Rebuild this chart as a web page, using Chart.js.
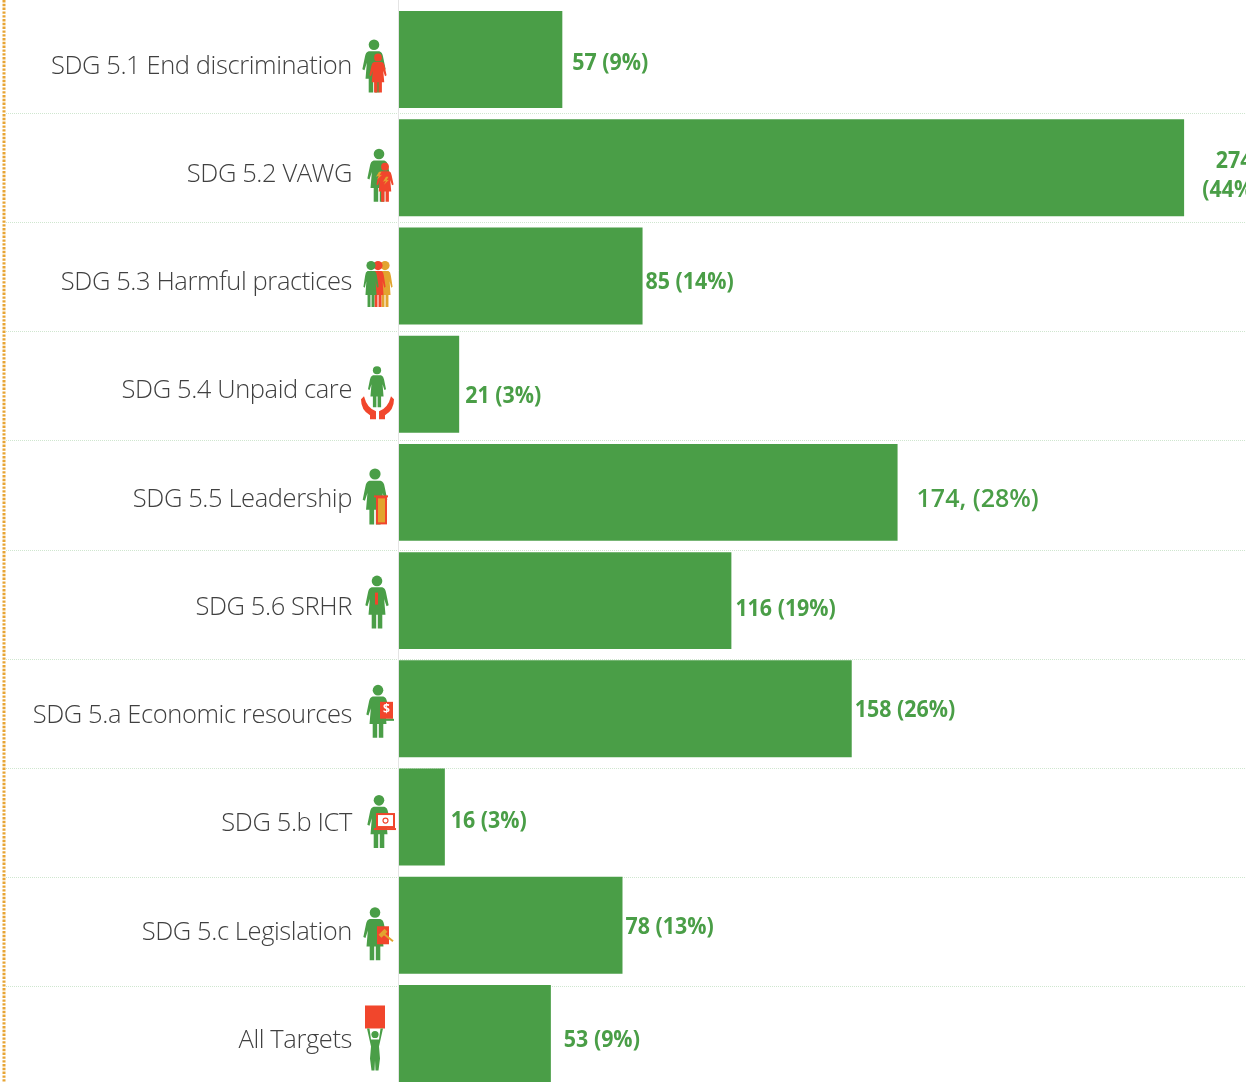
<!DOCTYPE html>
<html>
<head>
<meta charset="utf-8">
<title>SDG 5 targets</title>
<script src="https://cdn.jsdelivr.net/npm/chart.js@4"></script>
<style>
    html, body { margin: 0; padding: 0; background: #fff; overflow: hidden; }
    canvas { display: block; }
</style>
</head>
<body>
<canvas id="chart" width="1246" height="1100"></canvas>
<script>
const categories = ['SDG 5.1 End discrimination', 'SDG 5.2 VAWG', 'SDG 5.3 Harmful practices', 'SDG 5.4 Unpaid care',
    'SDG 5.5 Leadership', 'SDG 5.6 SRHR', 'SDG 5.a Economic resources', 'SDG 5.b ICT', 'SDG 5.c Legislation', 'All Targets'];
const values = [57, 274, 85, 21, 174, 116, 158, 16, 78, 53];
const valueLabels = ['57 (9%)', ['274', '(44%)'], '85 (14%)', '21 (3%)', '174, (28%)', '116 (19%)', '158 (26%)', '16 (3%)', '78 (13%)', '53 (9%)'];

// label nudges off the bar end, the source places them by hand
const labelDx = [10, 50, 3, 6, 19, 4, 3, 6, 3, 13];
const labelDy = [3.5, 8, 7, 12, 7, 9, 2, 4, 2, 7];

const GREEN = '#4a9e47';
const RED = '#f1462c';
const GOLD = '#e2a42f';

// woman pictogram, unit height, sx narrows her for the group icon
function woman(ctx, cx, top, h, color, sx = 1) {
    ctx.save();
    ctx.translate(cx, top);
    ctx.scale(h * sx, h);
    ctx.fillStyle = color;
    ctx.beginPath();
    ctx.ellipse(0, 0.1, 0.1 / sx, 0.1, 0, 0, Math.PI * 2);
    ctx.fill();
    ctx.beginPath();
    ctx.moveTo(-0.1, 0.22);
    ctx.lineTo(0.1, 0.22);
    ctx.quadraticCurveTo(0.16, 0.24, 0.17, 0.32);
    ctx.lineTo(0.22, 0.56);
    ctx.lineTo(0.18, 0.58);
    ctx.lineTo(0.135, 0.44);
    ctx.lineTo(0.16, 0.74);
    ctx.lineTo(0.1, 0.74);
    ctx.lineTo(0.1, 1);
    ctx.lineTo(0.015, 1);
    ctx.lineTo(0.015, 0.74);
    ctx.lineTo(-0.015, 0.74);
    ctx.lineTo(-0.015, 1);
    ctx.lineTo(-0.1, 1);
    ctx.lineTo(-0.1, 0.74);
    ctx.lineTo(-0.16, 0.74);
    ctx.lineTo(-0.135, 0.44);
    ctx.lineTo(-0.18, 0.58);
    ctx.lineTo(-0.22, 0.56);
    ctx.lineTo(-0.17, 0.32);
    ctx.quadraticCurveTo(-0.16, 0.24, -0.1, 0.22);
    ctx.fill();
    ctx.restore();
}

function bolt(ctx, x, y, color) {
    ctx.fillStyle = color;
    ctx.beginPath();
    ctx.moveTo(x + 3, y);
    ctx.lineTo(x, y + 5);
    ctx.lineTo(x + 3, y + 4);
    ctx.lineTo(x + 1, y + 8);
    ctx.lineTo(x + 6, y + 3);
    ctx.lineTo(x + 3.5, y + 3.5);
    ctx.lineTo(x + 5.5, y);
    ctx.fill();
}

function hand(ctx, x, y, dir) {
    ctx.fillStyle = RED;
    ctx.beginPath();
    ctx.moveTo(x, y + 23);
    ctx.lineTo(x, y + 15);
    ctx.quadraticCurveTo(x + dir * 9, y + 12, x + dir * 12, y);
    ctx.lineTo(x + dir * 15, y + 3);
    ctx.quadraticCurveTo(x + dir * 15, y + 14, x + dir * 6, y + 19);
    ctx.lineTo(x + dir * 6, y + 23);
    ctx.fill();
}

// one per category, c = centre of the bar
const icons = [
    (ctx, c) => {
        woman(ctx, 374, c - 20, 53, GREEN);
        woman(ctx, 378, c - 6, 39, RED);
    },
    (ctx, c) => {
        woman(ctx, 379, c - 19, 53, GREEN);
        woman(ctx, 385, c - 5, 39, RED);
        bolt(ctx, 376, c + 4, GOLD);
        bolt(ctx, 383, c + 9, GOLD);
    },
    (ctx, c) => {
        woman(ctx, 385, c - 15, 46, GOLD, 0.75);
        woman(ctx, 378, c - 15, 46, RED, 0.75);
        woman(ctx, 371, c - 15, 46, GREEN, 0.75);
    },
    (ctx, c) => {
        woman(ctx, 377, c - 18, 41, GREEN);
        hand(ctx, 376, c + 12, -1);
        hand(ctx, 379, c + 12, 1);
    },
    (ctx, c) => {
        woman(ctx, 375, c - 24, 56, GREEN);
        ctx.fillStyle = RED;
        ctx.fillRect(374, c + 3, 14, 2);
        ctx.fillRect(376, c + 4, 11, 28);
        ctx.fillStyle = GOLD;
        ctx.fillRect(378, c + 6, 7, 24);
    },
    (ctx, c) => {
        woman(ctx, 377, c - 25, 53, GREEN);
        ctx.fillStyle = RED;
        ctx.fillRect(375, c - 8, 3, 12);
    },
    (ctx, c) => {
        woman(ctx, 378, c - 24, 53, GREEN);
        ctx.fillStyle = RED;
        ctx.fillRect(380, c - 7, 13, 17);
        ctx.fillStyle = GREEN;
        ctx.fillRect(380, c + 10, 14, 2);
        ctx.fillStyle = '#fff';
        ctx.font = 'bold 12px "Open Sans"';
        ctx.textAlign = 'center';
        ctx.textBaseline = 'middle';
        ctx.fillText('$', 386.5, c + 1);
    },
    (ctx, c) => {
        woman(ctx, 379, c - 22, 53, GREEN);
        ctx.fillStyle = RED;
        ctx.fillRect(376, c - 4, 19, 15);
        ctx.fillRect(374, c + 11, 22, 2);
        ctx.fillStyle = '#fff';
        ctx.fillRect(378, c - 2, 15, 11);
        ctx.strokeStyle = RED;
        ctx.lineWidth = 1.2;
        ctx.beginPath();
        ctx.arc(385.5, c + 3.5, 2.5, 0, Math.PI * 2);
        ctx.stroke();
    },
    (ctx, c) => {
        woman(ctx, 375, c - 18, 53, GREEN);
        ctx.fillStyle = RED;
        ctx.fillRect(377, c + 1, 12, 18);
        ctx.strokeStyle = GOLD;
        ctx.lineWidth = 2;
        ctx.beginPath();
        ctx.moveTo(383, c + 8);
        ctx.lineTo(393, c + 16);
        ctx.stroke();
        ctx.lineWidth = 4;
        ctx.beginPath();
        ctx.moveTo(380, c + 11);
        ctx.lineTo(386, c + 5);
        ctx.stroke();
    },
    (ctx, c) => {
        ctx.fillStyle = RED;
        ctx.fillRect(365, c - 28, 20, 23);
        ctx.fillStyle = GREEN;
        ctx.beginPath();
        ctx.arc(375, c + 1, 3.6, 0, Math.PI * 2);
        ctx.fill();
        ctx.beginPath();
        ctx.moveTo(367, c - 5);
        ctx.lineTo(369.5, c - 5);
        ctx.lineTo(371, c + 6);
        ctx.lineTo(379, c + 6);
        ctx.lineTo(380.5, c - 5);
        ctx.lineTo(383, c - 5);
        ctx.lineTo(379, c + 13);
        ctx.lineTo(380, c + 25);
        ctx.lineTo(378.5, c + 37);
        ctx.lineTo(375.5, c + 37);
        ctx.lineTo(375, c + 27);
        ctx.lineTo(374.5, c + 37);
        ctx.lineTo(371.5, c + 37);
        ctx.lineTo(370, c + 25);
        ctx.lineTo(371, c + 13);
        ctx.fill();
    }
];

const decorations = {
    id: 'decorations',
    beforeDraw(chart) {
        // source text is squeezed, tick labels pick this up from the context
        chart.ctx.letterSpacing = '-0.4px';
    },
    beforeDatasetsDraw(chart) {
        const ctx = chart.ctx;
        ctx.save();
        // row separators, slightly wider pitch than the bars in the source
        ctx.strokeStyle = '#cfe6cf';
        ctx.lineWidth = 1;
        ctx.setLineDash([1, 1]);
        for (let i = 1; i < values.length; i++) {
            const y = Math.round(4 + 109.1 * i) + 0.5;
            ctx.beginPath();
            ctx.moveTo(6, y);
            ctx.lineTo(1246, y);
            ctx.stroke();
        }
        ctx.setLineDash([]);
        ctx.strokeStyle = '#e4e4e4';
        ctx.beginPath();
        ctx.moveTo(chart.chartArea.left - 0.5, 0);
        ctx.lineTo(chart.chartArea.left - 0.5, 1082);
        ctx.stroke();
        // orange dotted rule at the far left
        ctx.strokeStyle = '#e8a534';
        ctx.lineWidth = 3;
        ctx.setLineDash([2.4, 1.4]);
        ctx.beginPath();
        ctx.moveTo(4, 0);
        ctx.lineTo(4, 1082);
        ctx.stroke();
        ctx.restore();
    },
    afterDatasetsDraw(chart) {
        const ctx = chart.ctx;
        const xScale = chart.scales.x;
        const yScale = chart.scales.y;
        values.forEach((v, i) => {
            const c = yScale.getPixelForValue(i);
            ctx.save();
            ctx.letterSpacing = '0px';
            icons[i](ctx, c);
            ctx.restore();

            const x = xScale.getPixelForValue(v) + labelDx[i];
            const y = c + labelDy[i];
            const label = valueLabels[i];
            ctx.save();
            ctx.fillStyle = GREEN;
            ctx.textBaseline = 'middle';
            ctx.letterSpacing = '0px';
            ctx.font = (i === 4 ? '600 25px' : '700 23px') + ' "Open Sans"';
            // bold labels are narrower in the source than the installed face
            ctx.translate(x, y);
            if (i !== 4) ctx.scale(0.93, 1);
            if (Array.isArray(label)) {
                ctx.textAlign = 'center';
                label.forEach((line, n) => ctx.fillText(line, n * -3, (n - 0.5) * 29));
            } else {
                ctx.textAlign = 'left';
                ctx.fillText(label, 0, 0);
            }
            ctx.restore();
        });
    }
};

new Chart(document.getElementById('chart').getContext('2d'), {
    type: 'bar',
    data: {
        labels: categories,
        datasets: [{
            data: values,
            backgroundColor: GREEN,
            borderWidth: 0,
            barPercentage: 0.896,
            categoryPercentage: 1
        }]
    },
    options: {
        indexAxis: 'y',
        responsive: false,
        animation: false,
        layout: { padding: { top: 5.4, bottom: 12.4, left: 0, right: 0 } },
        plugins: { legend: { display: false }, tooltip: { enabled: false } },
        scales: {
            x: {
                display: false,
                min: 0,
                max: 295.6
            },
            y: {
                afterFit: scale => {
                    scale.width = 399;
                    scale.paddingTop = 0;
                    scale.paddingBottom = 0;
                },
                border: { display: false },
                grid: { display: false },
                ticks: {
                    color: '#404040',
                    padding: 39,
                    labelOffset: 7,
                    font: { family: '"Open Sans"', size: 25.5, weight: '300' }
                }
            }
        }
    },
    plugins: [decorations]
});
</script>
</body>
</html>
